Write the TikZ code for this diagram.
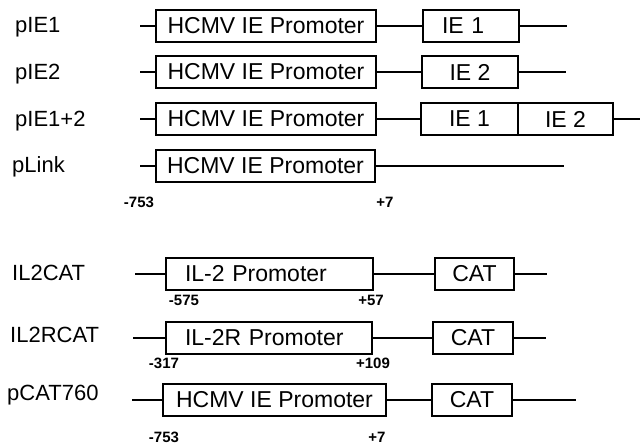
\documentclass[tikz,border=0pt]{standalone}
\usepackage{fontspec}
\setmainfont{Liberation Sans}
\tikzset{
  dna/.style={line width=1.5pt},
  gene/.style={draw,line width=1.5pt,minimum height=32pt,inner sep=0pt,
    font=\fontsize{23}{25}\selectfont},
  lgene/.style={gene,align=left,inner xsep=19pt,text width=#1}, % text set from the left
  plab/.style={anchor=base west,inner sep=0pt,font=\fontsize{22}{24}\selectfont},
  bp/.style={anchor=base,inner sep=0pt,font=\fontsize{15}{17}\selectfont\bfseries},
}
\begin{document}
\begin{tikzpicture}[x=1pt,y=-1pt]
  \useasboundingbox (0,0) rectangle (640,446);
  % ---- HCMV IE constructs ----
  \node[plab] (ie1lab) at (15,33) {pIE1};
  \coordinate (ie1s) at (140,26);
  \node[gene,minimum width=220pt] (ie1p) at (266,26) {HCMV IE Promoter};
  \node[lgene=58pt] (ie1g) at (471,26) {IE 1};
  \coordinate (ie1e) at (567,26);
  \draw[dna] (ie1s) -- (ie1p.west) (ie1p.east) -- (ie1g.west) (ie1g.east) -- (ie1e);

  \node[plab] (ie2lab) at (15,80) {pIE2};
  \coordinate (ie2s) at (140,72);
  \node[gene,minimum width=220pt] (ie2p) at (266,72) {HCMV IE Promoter};
  \node[gene,minimum width=96pt] (ie2g) at (470,72) {IE 2};
  \coordinate (ie2e) at (566,72);
  \draw[dna] (ie2s) -- (ie2p.west) (ie2p.east) -- (ie2g.west) (ie2g.east) -- (ie2e);

  \node[plab] (ie12lab) at (15,127) {pIE1+2};
  \coordinate (ie12s) at (140,119);
  \node[gene,minimum width=220pt] (ie12p) at (266,119) {HCMV IE Promoter};
  \node[gene,minimum width=97pt] (ie12a) at (469.5,119) {IE 1};
  \node[gene,minimum width=95pt] (ie12b) at (565.5,119) {IE 2};
  \coordinate (ie12e) at (640,119);
  \draw[dna] (ie12s) -- (ie12p.west) (ie12p.east) -- (ie12a.west) (ie12b.east) -- (ie12e);

  \node[plab] (lnklab) at (12,173) {pLink};
  \coordinate (lnks) at (140,166);
  \node[gene,minimum width=219pt] (lnkp) at (265.5,166) {HCMV IE Promoter};
  \coordinate (lnke) at (564,166);
  \draw[dna] (lnks) -- (lnkp.west) (lnkp.east) -- (lnke);

  \node[bp] (hcmvl) at (139,208) {-753};
  \node[bp] (hcmvr) at (385,208) {+7};

  % ---- CAT reporter constructs ----
  \node[plab] (il2lab) at (12,281) {IL2CAT};
  \coordinate (il2s) at (135,274);
  \node[lgene=169pt] (il2p) at (269.5,274) {IL-2 Promoter};
  \node[gene,minimum width=79pt] (il2g) at (474.5,274) {CAT};
  \coordinate (il2e) at (547,274);
  \draw[dna] (il2s) -- (il2p.west) (il2p.east) -- (il2g.west) (il2g.east) -- (il2e);
  \node[bp] (il2l) at (184,306) {-575};
  \node[bp] (il2r) at (371,306) {+57};

  \node[plab] (il2rlab) at (10,343) {IL2RCAT};
  \coordinate (il2rs) at (133,338);
  \node[lgene=168pt] (il2rp) at (269,338) {IL-2R Promoter};
  \node[gene,minimum width=80pt] (il2rg) at (473,338) {CAT};
  \coordinate (il2re) at (546,338);
  \draw[dna] (il2rs) -- (il2rp.west) (il2rp.east) -- (il2rg.west) (il2rg.east) -- (il2re);
  \node[bp] (il2rl) at (164,369) {-317};
  \node[bp] (il2rr) at (373,369) {+109};

  \node[plab] (c760lab) at (7,400) {pCAT760};
  \coordinate (c760s) at (132,400);
  \node[gene,minimum width=223pt] (c760p) at (274.5,400) {HCMV IE Promoter};
  \node[gene,minimum width=80pt] (c760g) at (472,400) {CAT};
  \coordinate (c760e) at (576,400);
  \draw[dna] (c760s) -- (c760p.west) (c760p.east) -- (c760g.west) (c760g.east) -- (c760e);
  \node[bp] (c760l) at (164,442) {-753};
  \node[bp] (c760r) at (377,442) {+7};
\end{tikzpicture}
\end{document}
